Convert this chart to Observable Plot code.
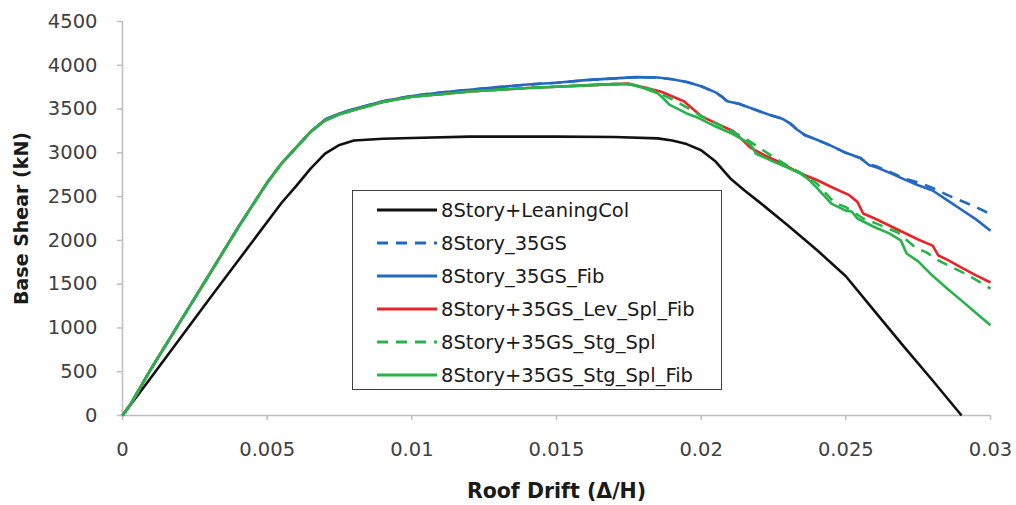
<!DOCTYPE html>
<html>
<head>
<meta charset="utf-8">
<script src="https://cdn.jsdelivr.net/npm/d3@7"></script>
<script src="https://cdn.jsdelivr.net/npm/@observablehq/plot@0.6"></script>
<style>
  html, body { margin: 0; padding: 0; background: #fff; }
  #wrap { position: relative; width: 1016px; height: 505px; font-family: "DejaVu Sans", sans-serif; }
  #legend { position: absolute; left: 352px; top: 190px; width: 368px; height: 198px; border: 1.5px solid #404040; background: #fff; box-sizing: content-box; }
  .row { position: absolute; left: 24px; height: 24px; display: flex; align-items: center; font-size: 19.5px; color: #1a1a1a; white-space: nowrap; }
  .row svg { margin-right: 4px; }
</style>
</head>
<body>
<div id="wrap"></div>
<script>
// ---- Data ----
const xTicks = [0, 0.005, 0.01, 0.015, 0.02, 0.025, 0.03];
const yTicks = [0, 500, 1000, 1500, 2000, 2500, 3000, 3500, 4000, 4500];

const seriesNames = [
  "8Story+LeaningCol",
  "8Story_35GS",
  "8Story_35GS_Fib",
  "8Story+35GS_Lev_Spl_Fib",
  "8Story+35GS_Stg_Spl",
  "8Story+35GS_Stg_Spl_Fib"
];
const seriesColors = ["#111111", "#2468c2", "#2468c2", "#e8242b", "#27b34b", "#27b34b"];
const seriesDashed = [false, true, false, false, true, false];

// [roof drift, base shear kN]
const leaningCol = [
  [0,0],[0.001,440],[0.002,885],[0.003,1330],[0.004,1770],[0.005,2210],[0.0055,2430],
  [0.006,2620],[0.0065,2820],[0.007,2990],[0.0075,3090],[0.008,3140],[0.009,3160],
  [0.01,3170],[0.012,3185],[0.015,3185],[0.017,3180],[0.0185,3165],[0.019,3140],
  [0.0195,3100],[0.02,3030],[0.0205,2900],[0.021,2710],[0.0215,2570],[0.022,2440],
  [0.023,2170],[0.024,1890],[0.025,1590],[0.026,1190],[0.027,790],[0.028,400],[0.029,0]
];
const gs35 = [
  [0,0],[0.0003,140],[0.001,540],[0.002,1075],[0.003,1610],[0.004,2150],[0.005,2660],
  [0.0055,2880],[0.006,3060],[0.0065,3240],[0.007,3380],[0.0075,3450],[0.008,3500],
  [0.009,3590],[0.01,3650],[0.011,3690],[0.012,3720],[0.013,3750],[0.014,3780],
  [0.015,3800],[0.016,3830],[0.017,3850],[0.0178,3865],[0.0185,3860],[0.019,3840],
  [0.0195,3810],[0.02,3760],[0.0205,3690],[0.0207,3645],[0.0209,3590],[0.0213,3560],
  [0.0218,3500],[0.0223,3440],[0.0228,3390],[0.0231,3330],[0.0233,3270],[0.0236,3200],
  [0.024,3150],[0.0245,3080],[0.025,3000],[0.0255,2940],[0.0258,2870],[0.0261,2840],
  [0.0266,2770],[0.027,2710],[0.0275,2660],[0.028,2600],[0.0285,2520],[0.029,2450],
  [0.0295,2380],[0.03,2300]
];
const gs35Fib = [
  [0,0],[0.0003,140],[0.001,540],[0.002,1075],[0.003,1610],[0.004,2150],[0.005,2660],
  [0.0055,2880],[0.006,3060],[0.0065,3240],[0.007,3380],[0.0075,3450],[0.008,3500],
  [0.009,3590],[0.01,3650],[0.011,3690],[0.012,3720],[0.013,3750],[0.014,3780],
  [0.015,3800],[0.016,3830],[0.017,3850],[0.0178,3865],[0.0185,3860],[0.019,3840],
  [0.0195,3810],[0.02,3760],[0.0205,3690],[0.0207,3645],[0.0209,3590],[0.0213,3560],
  [0.0218,3500],[0.0223,3440],[0.0228,3390],[0.0231,3330],[0.0233,3270],[0.0236,3200],
  [0.024,3150],[0.0245,3080],[0.025,3000],[0.0255,2940],[0.0258,2860],[0.0261,2830],
  [0.0266,2760],[0.027,2700],[0.0275,2630],[0.028,2570],[0.0285,2460],[0.029,2350],
  [0.0295,2240],[0.03,2110]
];
const levSplFib = [
  [0,0],[0.0003,140],[0.001,540],[0.002,1075],[0.003,1610],[0.004,2150],[0.005,2660],
  [0.0055,2880],[0.006,3060],[0.0065,3240],[0.007,3370],[0.0075,3440],[0.008,3490],
  [0.009,3580],[0.01,3640],[0.011,3670],[0.012,3700],[0.013,3720],[0.014,3740],
  [0.015,3755],[0.016,3770],[0.017,3785],[0.0175,3790],[0.018,3750],[0.0186,3700],
  [0.0194,3590],[0.02,3420],[0.0205,3340],[0.0211,3250],[0.0217,3060],[0.0222,2970],
  [0.0226,2910],[0.0234,2770],[0.024,2690],[0.0245,2610],[0.0251,2520],[0.0254,2440],
  [0.0256,2307],[0.026,2250],[0.0265,2170],[0.027,2090],[0.0275,2010],[0.028,1940],
  [0.0282,1827],[0.0285,1780],[0.029,1690],[0.0295,1600],[0.03,1519]
];
const stgSpl = [
  [0,0],[0.0003,140],[0.001,540],[0.002,1075],[0.003,1610],[0.004,2150],[0.005,2660],
  [0.0055,2880],[0.006,3060],[0.0065,3240],[0.007,3370],[0.0075,3440],[0.008,3490],
  [0.009,3580],[0.01,3640],[0.011,3670],[0.012,3700],[0.013,3720],[0.014,3740],
  [0.015,3755],[0.016,3770],[0.017,3785],[0.0175,3785],[0.018,3760],[0.0185,3690],
  [0.019,3610],[0.0195,3520],[0.02,3420],[0.0205,3340],[0.021,3260],[0.0215,3170],
  [0.022,3060],[0.0225,2950],[0.023,2850],[0.0235,2760],[0.024,2650],[0.0246,2430],
  [0.025,2380],[0.0256,2250],[0.026,2200],[0.0268,2090],[0.0274,1920],[0.0278,1860],
  [0.0282,1770],[0.029,1640],[0.0295,1550],[0.03,1450]
];
const stgSplFib = [
  [0,0],[0.0003,140],[0.001,540],[0.002,1075],[0.003,1610],[0.004,2150],[0.005,2660],
  [0.0055,2880],[0.006,3060],[0.0065,3240],[0.007,3370],[0.0075,3440],[0.008,3490],
  [0.009,3580],[0.01,3640],[0.011,3670],[0.012,3700],[0.013,3720],[0.014,3740],
  [0.015,3755],[0.016,3770],[0.017,3785],[0.0175,3785],[0.018,3740],[0.0185,3680],
  [0.0187,3620],[0.0189,3550],[0.0195,3450],[0.0199,3400],[0.0205,3300],[0.021,3230],
  [0.0215,3140],[0.0217,3100],[0.0219,2990],[0.0225,2900],[0.023,2830],[0.0234,2770],
  [0.0237,2700],[0.024,2600],[0.0245,2420],[0.025,2340],[0.0252,2330],[0.0254,2250],
  [0.026,2150],[0.0265,2080],[0.0269,2000],[0.0271,1850],[0.0275,1760],[0.028,1595],
  [0.0285,1450],[0.029,1312],[0.0295,1170],[0.03,1030]
];
const allSeries = [leaningCol, gs35, gs35Fib, levSplFib, stgSpl, stgSplFib];

// ---- Chart ----
const axisGray = "#bfbfbf";
const lineMarks = allSeries.map((s, i) => Plot.line(s, {
  x: d => d[0], y: d => d[1],
  stroke: seriesColors[i], strokeWidth: 2.6,
  strokeDasharray: seriesDashed[i] ? "11,8" : null,
  strokeLinejoin: "round", strokeLinecap: "butt"
}));

const chart = Plot.plot({
  width: 1016,
  height: 505,
  marginLeft: 122,
  marginRight: 26,
  marginTop: 21,
  marginBottom: 90,
  style: { fontFamily: "'DejaVu Sans', sans-serif", fontSize: "19.5px", color: "#404040", background: "#fff" },
  x: { domain: [0, 0.03] },
  y: { domain: [0, 4500] },
  marks: [
    Plot.ruleY([0], { stroke: axisGray, strokeWidth: 1.6 }),
    Plot.ruleX([0], { stroke: axisGray, strokeWidth: 1.6 }),
    Plot.axisY({
      ticks: yTicks, tickSize: 5, tickPadding: 20, stroke: axisGray, strokeWidth: 1.5,
      tickFormat: d => String(d), fill: "#404040",
      label: null
    }),
    Plot.axisX({
      ticks: xTicks, tickSize: 5, tickPadding: 22, stroke: axisGray, strokeWidth: 1.5,
      tickFormat: d => String(d), fill: "#404040",
      label: null
    }),
    Plot.axisY({ ticks: [], label: "Base Shear (kN)", labelAnchor: "center", labelArrow: "none", labelOffset: 108,
      fontWeight: "bold", fontSize: 19, fill: "#1a1a1a" }),
    Plot.axisX({ ticks: [], label: "Roof Drift (Δ/H)", labelAnchor: "center", labelArrow: "none", labelOffset: 82,
      fontWeight: "bold", fontSize: 20.5, fill: "#1a1a1a" }),
    ...lineMarks
  ]
});

const wrap = document.getElementById("wrap");
wrap.appendChild(chart);
chart.style.position = "absolute";
chart.style.left = "0px";
chart.style.top = "0px";

// ---- Legend (overlay inside the plot area) ----
const legend = document.createElement("div");
legend.id = "legend";
const rowTops = [7, 40, 73, 106, 139, 172];
seriesNames.forEach((name, i) => {
  const row = document.createElement("div");
  row.className = "row";
  row.style.top = rowTops[i] + "px";
  const dash = seriesDashed[i] ? 'stroke-dasharray="11,8"' : "";
  row.innerHTML = `<svg width="60" height="6"><line x1="0" y1="3" x2="60" y2="3" stroke="${seriesColors[i]}" stroke-width="2.8" ${dash}/></svg><span>${name}</span>`;
  legend.appendChild(row);
});
wrap.appendChild(legend);
</script>
</body>
</html>
